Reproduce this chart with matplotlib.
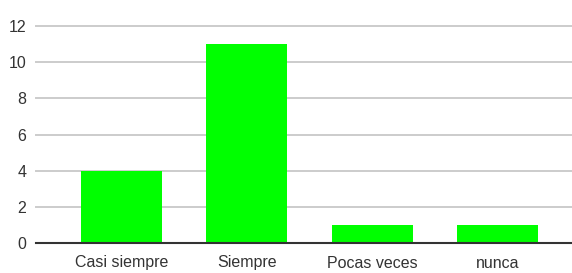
import matplotlib.pyplot as plt
import numpy as np

categorias = ["Casi siempre", "Siempre", "Pocas veces", "nunca"]
valores = [4, 11, 1, 1]
yticks = [0, 2, 4, 6, 8, 10, 12]

plt.rcParams['font.family'] = ['Liberation Sans', 'DejaVu Sans']

fig = plt.figure(figsize=(5.72, 2.73), dpi=100)
ax = fig.add_axes([36 / 572, 30 / 273, 1 - 36 / 572, 217 / 273])

x = np.arange(len(categorias))
ax.bar(x, valores, width=0.646, color="#00ff00", zorder=3)

ax.set_xlim(-0.682, 3.595)
ax.set_ylim(0, 12)
ax.set_yticks(yticks)
ax.set_xticks(x)
ax.set_xticklabels(categorias)

ax.grid(axis='y', color="#cccccc", linewidth=1.4, zorder=0)
for gl in ax.get_ygridlines():
    gl.set_clip_on(False)
ax.tick_params(axis='both', length=0, labelsize=11.5, colors="#333333")
ax.tick_params(axis='y', pad=7)
ax.tick_params(axis='x', pad=9)

for s in ["top", "right", "left"]:
    ax.spines[s].set_visible(False)
ax.spines["bottom"].set_color("#333333")
ax.spines["bottom"].set_linewidth(1.5)
ax.spines["bottom"].set_zorder(4)

fig.savefig("out.png", dpi=100)
